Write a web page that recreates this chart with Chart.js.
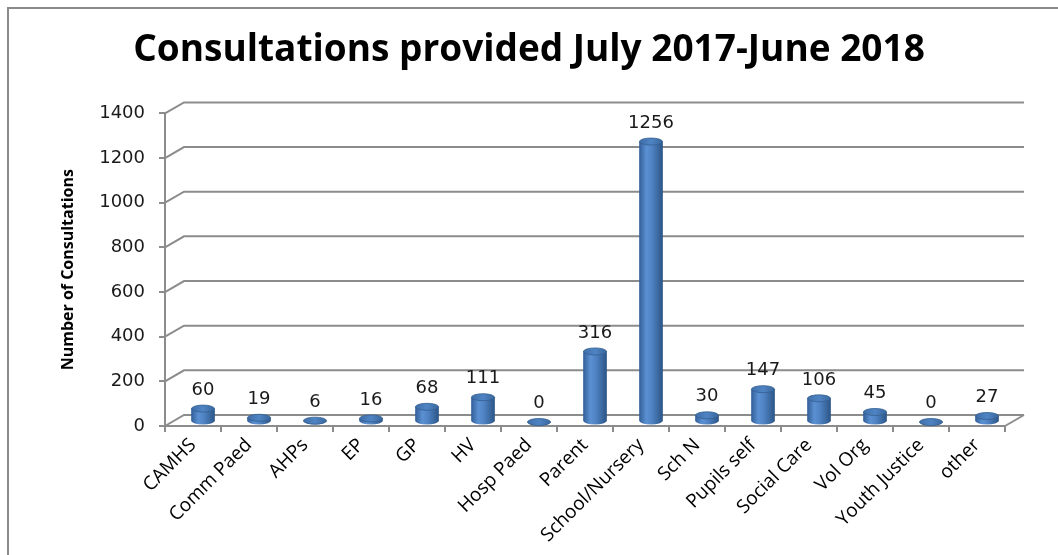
<!DOCTYPE html>
<html>
<head>
<meta charset="utf-8">
<script src="https://cdn.jsdelivr.net/npm/chart.js@4.4.0/dist/chart.umd.min.js"></script>
<style>
    html, body { margin: 0; padding: 0; background: #fff; }
    #wrap { position: relative; width: 1058px; height: 555px; overflow: hidden; }
    #frame { position: absolute; left: 7px; top: 7px; width: 1100px; height: 600px; border-left: 2px solid #8a8a8a; border-top: 2px solid #8a8a8a; }
    canvas { position: absolute; left: 0; top: 0; }
</style>
</head>
<body>
<div id="wrap">
    <div id="frame"></div>
    <canvas id="chart" width="1058" height="555"></canvas>
</div>
<script>
    "use strict";

    // data
    var categories = ["CAMHS", "Comm Paed", "AHPs", "EP", "GP", "HV", "Hosp Paed", "Parent",
        "School/Nursery", "Sch N", "Pupils self", "Social Care", "Vol Org", "Youth Justice", "other"];
    var consultations = [60, 19, 6, 16, 68, 111, 0, 316, 1256, 30, 147, 106, 45, 0, 27];
    var yTicks = [0, 200, 400, 600, 800, 1000, 1200, 1400];

    var gridColor = "#8c8c8c";
    var depthX = 19, depthY = -11;     // back wall offset
    var barShiftX = 10, barShiftY = -4; // bars sit mid-depth
    var ry = 3.5;                       // cylinder cap radius (vertical)

    function bodyGradient(ctx, cx, half) {
        if (!isFinite(cx)) return "#4f81bd";
        var g = ctx.createLinearGradient(cx - half, 0, cx + half, 0);
        g.addColorStop(0, "#34609a");
        g.addColorStop(0.3, "#5b90d3");
        g.addColorStop(0.55, "#4e82c3");
        g.addColorStop(1, "#2d5686");
        return g;
    }

    // Back wall gridlines + floor, like the Excel 3D look
    var wallPlugin = {
        id: "wall",
        beforeDatasetsDraw: function (chart) {
            var ctx = chart.ctx, y = chart.scales.y, a = chart.chartArea;
            ctx.save();
            ctx.strokeStyle = gridColor;
            ctx.lineWidth = 2;
            yTicks.forEach(function (v) {
                var py = y.getPixelForValue(v);
                ctx.beginPath();
                ctx.moveTo(a.left, py);
                ctx.lineTo(a.left + depthX, py + depthY);
                ctx.lineTo(a.right + depthX, py + depthY);
                ctx.stroke();
            });
            // floor right edge
            var p0 = y.getPixelForValue(0);
            ctx.beginPath();
            ctx.moveTo(a.right, p0);
            ctx.lineTo(a.right + depthX, p0 + depthY);
            ctx.stroke();
            ctx.restore();

            // shift the bars back a little
            ctx.save();
            ctx.translate(barShiftX, barShiftY);
        },
        afterDatasetsDraw: function (chart) {
            var ctx = chart.ctx;
            var bars = chart.getDatasetMeta(0).data;
            bars.forEach(function (bar, i) {
                var half = bar.width / 2;
                // rounded bottom
                ctx.fillStyle = bodyGradient(ctx, bar.x, half);
                ctx.beginPath();
                ctx.ellipse(bar.x, bar.base, half, ry, 0, 0, Math.PI);
                ctx.fill();
                // top cap
                var g = ctx.createLinearGradient(bar.x - half, 0, bar.x + half, 0);
                g.addColorStop(0, "#3f6ea8");
                g.addColorStop(0.5, "#4f84c4");
                g.addColorStop(1, "#3a679d");
                ctx.fillStyle = g;
                ctx.beginPath();
                ctx.ellipse(bar.x, bar.y, half, ry, 0, 0, Math.PI * 2);
                ctx.fill();
                ctx.strokeStyle = "#34608f";
                ctx.lineWidth = 0.8;
                ctx.stroke();
                // value label
                ctx.fillStyle = "#1a1a1a";
                ctx.font = "18px 'DejaVu Sans'";
                ctx.textAlign = "center";
                ctx.textBaseline = "bottom";
                ctx.fillText(String(consultations[i]), bar.x, bar.y - ry - 6);
            });
            ctx.restore();
        }
    };

    var ctx = document.getElementById("chart").getContext("2d");
    var chart = new Chart(ctx, {
        type: "bar",
        data: {
            labels: categories,
            datasets: [{
                label: "Number of Consultations",
                data: consultations,
                barThickness: 23,
                borderWidth: 0,
                backgroundColor: function (c) {
                    var x = c.chart.scales.x;
                    if (!x || c.dataIndex === undefined) return "#4f81bd";
                    return bodyGradient(c.chart.ctx, x.getPixelForValue(c.dataIndex), 11.5);
                },
                clip: false
            }]
        },
        plugins: [wallPlugin],
        options: {
            responsive: false,
            animation: false,
            layout: { padding: 0 },
            plugins: {
                legend: { display: false },
                tooltip: { enabled: false },
                title: {
                    display: true,
                    text: "Consultations provided July 2017-June 2018",
                    color: "#000",
                    font: { family: "'Open Sans'", size: 37, weight: "bold", lineHeight: 1.2 },
                    padding: { top: 28, bottom: 41 }
                }
            },
            scales: {
                x: {
                    grid: { drawOnChartArea: false, drawTicks: true, tickLength: 6, color: gridColor, lineWidth: 2 },
                    border: { display: true, color: gridColor, width: 2 },
                    ticks: {
                        color: "#000",
                        font: { family: "'Open Sans'", size: 19 },
                        minRotation: 45,
                        maxRotation: 45,
                        autoSkip: false,
                        padding: 2
                    },
                    afterFit: function (scale) { scale.height = 129; }
                },
                y: {
                    min: 0,
                    max: 1400,
                    afterBuildTicks: function (scale) {
                        scale.ticks = yTicks.map(function (v) { return { value: v }; });
                    },
                    grid: { drawOnChartArea: false, drawTicks: true, tickLength: 6, color: gridColor, lineWidth: 2 },
                    border: { display: true, color: gridColor, width: 2 },
                    ticks: {
                        color: "#1a1a1a",
                        font: { family: "'DejaVu Sans'", size: 18 },
                        padding: 14,
                        callback: function (v) { return String(v); }
                    },
                    title: {
                        display: true,
                        text: "Number of Consultations",
                        color: "#000",
                        font: { family: "'Open Sans'", size: 16, weight: "bold" },
                        padding: { top: 59 }
                    },
                    afterFit: function (scale) { scale.width = 165; }
                },
                // empty right-hand strip so the title stays centred on the page
                yRight: {
                    position: "right",
                    min: 0,
                    max: 1400,
                    grid: { display: false },
                    border: { display: false },
                    ticks: { display: false },
                    afterFit: function (scale) { scale.width = 53; }
                }
            }
        }
    });
</script>
</body>
</html>
